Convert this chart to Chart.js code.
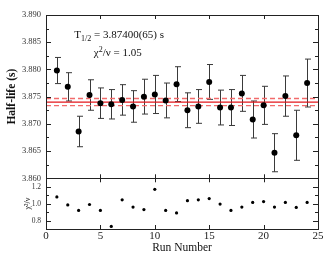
<!DOCTYPE html>
<html>
<head>
<meta charset="utf-8">
<script src="https://cdn.jsdelivr.net/npm/chart.js@4.4.0/dist/chart.umd.min.js"></script>
<style>
  html, body { margin: 0; padding: 0; background: #fff; }
  #wrap { width: 330px; height: 255px; }
</style>
</head>
<body>
<div id="wrap"><canvas id="chart"></canvas></div>
<script>
const runs = [1, 2, 3, 4, 5, 6, 7, 8, 9, 10, 11, 12, 13, 14, 15, 16, 17, 18, 19, 20, 21, 22, 23, 24];
const halfLife = [3.8798, 3.8768, 3.8686, 3.8753, 3.8738, 3.8736, 3.8744, 3.8732, 3.8750, 3.8754, 3.8743, 3.8773,
  3.8725, 3.8732, 3.8777, 3.8730, 3.8730, 3.8756, 3.8708, 3.8734, 3.8647, 3.8751, 3.8679, 3.8775];
const halfLifeErr = [0.0024, 0.0026, 0.0028, 0.0028, 0.0028, 0.0027, 0.0028, 0.0029, 0.0032, 0.0035, 0.0032, 0.0032,
  0.0032, 0.0031, 0.0032, 0.0032, 0.0033, 0.0033, 0.0034, 0.0035, 0.0035, 0.0037, 0.0046, 0.0044];
const chiRed = [1.08, 0.985, 0.92, 0.99, 0.92, 0.73, 1.045, 0.96, 0.93, 1.17, 0.92, 0.89,
  1.035, 1.045, 1.06, 0.995, 0.92, 0.96, 1.015, 1.025, 0.96, 1.015, 0.955, 1.015];
const meanHalfLife = 3.874;
const meanErr = 0.00065;
const halfLifeTicks = [3.860, 3.865, 3.870, 3.875, 3.880, 3.885, 3.890];
const halfLifeMinor = [3.8625, 3.8675, 3.8725, 3.8775, 3.8825, 3.8875];
const chiTicks = [0.8, 1.0, 1.2];
const chiMinor = [0.7, 0.9, 1.1, 1.3];
const runTicks = [0, 5, 10, 15, 20, 25];

const serif = '"Liberation Serif", "DejaVu Serif", serif';
const axisColor = "#222";

function points(ys) {
  return runs.map((r, i) => ({ x: r, y: ys[i] }));
}

function flatLine(value) {
  return [{ x: 0, y: value }, { x: 25, y: value }];
}

// error bars + inward tick marks + panel frames + fit text
const decorations = {
  id: "decorations",
  beforeDatasetsDraw(chart) {
    const { ctx } = chart;
    const xs = chart.scales.x;
    const ys = chart.scales.y;
    ctx.save();
    ctx.strokeStyle = "#3a3a3a";
    ctx.lineWidth = 1;
    runs.forEach((r, i) => {
      const px = Math.round(xs.getPixelForValue(r)) + 0.5;
      const top = ys.getPixelForValue(halfLife[i] + halfLifeErr[i]);
      const bot = ys.getPixelForValue(halfLife[i] - halfLifeErr[i]);
      ctx.beginPath();
      ctx.moveTo(px, top);
      ctx.lineTo(px, bot);
      ctx.moveTo(px - 2.5, top);
      ctx.lineTo(px + 3.5, top);
      ctx.moveTo(px - 2.5, bot);
      ctx.lineTo(px + 3.5, bot);
      ctx.stroke();
    });
    ctx.restore();
  },
  afterDraw(chart) {
    const { ctx, chartArea } = chart;
    const xs = chart.scales.x;
    const left = chartArea.left;
    const right = chartArea.right;
    ctx.save();
    ctx.strokeStyle = axisColor;
    ctx.lineWidth = 1;

    [chart.scales.y, chart.scales.yc].forEach((s) => {
      ctx.strokeRect(left + 0.5, Math.round(s.top) + 0.5, right - left, Math.round(s.bottom) - Math.round(s.top));
      ctx.beginPath();
      runTicks.forEach((v) => {
        const px = Math.round(xs.getPixelForValue(v)) + 0.5;
        ctx.moveTo(px, s.bottom);
        ctx.lineTo(px, s.bottom - 4);
        ctx.moveTo(px, s.top);
        ctx.lineTo(px, s.top + 4);
      });
      ctx.stroke();
    });

    const yTicks = (s, major, minor) => {
      ctx.beginPath();
      major.forEach((v) => {
        const py = Math.round(s.getPixelForValue(v)) + 0.5;
        ctx.moveTo(left, py);
        ctx.lineTo(left + 5, py);
        ctx.moveTo(right, py);
        ctx.lineTo(right - 5, py);
      });
      minor.forEach((v) => {
        const py = Math.round(s.getPixelForValue(v)) + 0.5;
        ctx.moveTo(left, py);
        ctx.lineTo(left + 3, py);
        ctx.moveTo(right, py);
        ctx.lineTo(right - 3, py);
      });
      ctx.stroke();
    };
    yTicks(chart.scales.y, halfLifeTicks, halfLifeMinor);
    yTicks(chart.scales.yc, chiTicks, chiMinor);

    // fit result text
    const ys = chart.scales.y;
    ctx.fillStyle = "#111";
    ctx.textBaseline = "alphabetic";
    const big = "11px " + serif;
    const small = "8px " + serif;
    let x = xs.getPixelForValue(2.6);
    let y = ys.getPixelForValue(3.8857);
    ctx.font = big;
    ctx.fillText("T", x, y);
    x += ctx.measureText("T").width;
    ctx.font = small;
    ctx.fillText("1/2", x, y + 2.5);
    x += ctx.measureText("1/2").width;
    ctx.font = big;
    ctx.fillText(" = 3.87400(65) s", x, y);

    x = xs.getPixelForValue(4.4);
    y = ys.getPixelForValue(3.8824);
    ctx.fillText("\u03c7", x, y);
    x += ctx.measureText("\u03c7").width;
    ctx.font = small;
    ctx.fillText("2", x, y - 4);
    x += ctx.measureText("2").width;
    ctx.font = big;
    ctx.fillText("/\u03bd = 1.05", x, y);
    ctx.restore();
  },
};

const tickFont = { family: serif, size: 8.5 };

new Chart(document.getElementById("chart"), {
  type: "scatter",
  data: {
    datasets: [
      {
        data: points(halfLife),
        yAxisID: "y",
        pointRadius: 3,
        pointBackgroundColor: "#000",
        pointBorderWidth: 0,
      },
      {
        data: points(chiRed),
        yAxisID: "yc",
        pointRadius: 1.6,
        pointBackgroundColor: "#000",
        pointBorderWidth: 0,
      },
      {
        type: "line",
        data: flatLine(meanHalfLife),
        yAxisID: "y",
        borderColor: "#e3171d",
        borderWidth: 1.2,
        pointRadius: 0,
      },
      {
        type: "line",
        data: flatLine(meanHalfLife + meanErr),
        yAxisID: "y",
        borderColor: "#f26b6b",
        borderWidth: 1.4,
        borderDash: [5, 3],
        pointRadius: 0,
      },
      {
        type: "line",
        data: flatLine(meanHalfLife - meanErr),
        yAxisID: "y",
        borderColor: "#f26b6b",
        borderWidth: 1.4,
        borderDash: [5, 3],
        pointRadius: 0,
      },
    ],
  },
  options: {
    responsive: true,
    maintainAspectRatio: false,
    animation: false,
    events: [],
    layout: { padding: { top: 15, right: 12, left: 0, bottom: 0 } },
    plugins: { legend: { display: false }, tooltip: { enabled: false } },
    scales: {
      x: {
        type: "linear",
        position: "bottom",
        min: 0,
        max: 25,
        afterBuildTicks: (s) => { s.ticks = runTicks.map((v) => ({ value: v })); },
        ticks: { font: { family: serif, size: 11 }, color: "#222", padding: 1, maxRotation: 0 },
        grid: { display: false, drawTicks: false },
        border: { display: false },
        title: { display: true, text: "Run Number", font: { family: serif, size: 11.5 }, color: "#111", padding: { top: -2, bottom: 0 } },
        afterFit: (s) => { s.height = 26; },
      },
      yc: {
        type: "linear",
        position: "left",
        stack: "panels",
        stackWeight: 1,
        min: 0.7,
        max: 1.3,
        afterBuildTicks: (s) => { s.ticks = chiTicks.map((v) => ({ value: v })); },
        ticks: { font: { family: serif, size: 7.5 }, color: "#333", padding: 5, callback: (v) => Number(v).toFixed(1) },
        grid: { display: false, drawTicks: false },
        border: { display: false },
        title: { display: true, text: "\u03c7\u00b2/\u03bd", font: { family: serif, size: 8 }, color: "#222", padding: { top: 23, bottom: 0 } },
        afterFit: (s) => { s.width = 46; },
      },
      y: {
        type: "linear",
        position: "left",
        stack: "panels",
        stackWeight: 3.22,
        min: 3.86,
        max: 3.89,
        afterBuildTicks: (s) => { s.ticks = halfLifeTicks.map((v) => ({ value: v })); },
        ticks: { font: tickFont, color: "#333", padding: 5, callback: (v) => Number(v).toFixed(3) },
        grid: { display: false, drawTicks: false },
        border: { display: false },
        title: { display: true, text: "Half-life (s)", font: { family: serif, size: 11.5, weight: "bold" }, color: "#111", padding: { top: 5, bottom: 0 } },
        afterFit: (s) => { s.width = 46; },
      },
    },
  },
  plugins: [decorations],
});
</script>
</body>
</html>
